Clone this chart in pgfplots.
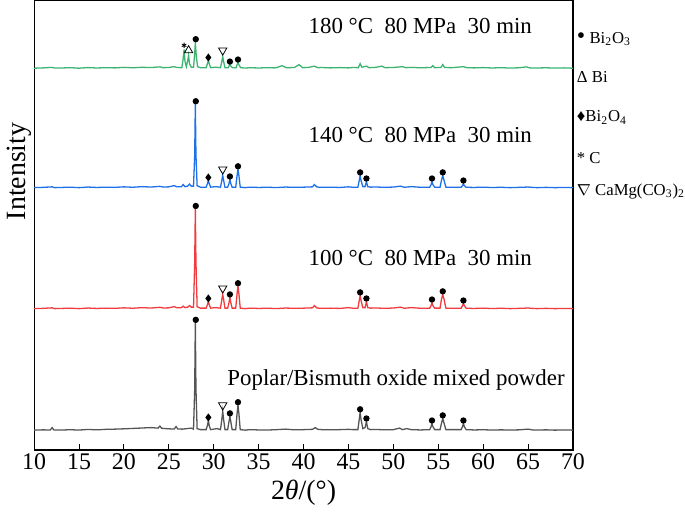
\documentclass[border=0pt]{standalone}
\usepackage{pgfplots}
\pgfplotsset{compat=1.18}
\usepackage{fontspec}
\setmainfont{Liberation Serif}
\definecolor{cgreen}{RGB}{60,179,113}
\definecolor{cblue}{RGB}{30,112,232}
\definecolor{cred}{RGB}{240,60,62}
\definecolor{cgray}{RGB}{85,85,85}
\begin{document}
\begin{tikzpicture}
\begin{axis}[
  width=271pt, height=226pt, scale only axis,
  xmin=10, xmax=70, ymin=0, ymax=442,
  xtick={10,15,...,70}, ytick=\empty,
  tick align=inside, xtick pos=bottom,
  major tick length=3pt,
  axis line style={line width=0.6pt},
  every tick/.style={black, line width=0.5pt},
  /pgf/number format/assume math mode=true,
  ticklabel style={font=\fontsize{12}{13}\selectfont},
  xticklabel style={yshift=1.5pt},
  xlabel={2\textit{θ}/(°)},
  xlabel style={font=\fontsize{14}{15}\selectfont, yshift=2pt},
  ylabel={Intensity},
  ylabel style={font=\fontsize{14}{15}\selectfont, at={(rel axis cs:0,0.62)}, yshift=-2pt},
  clip=false,
  every axis plot/.append style={line width=0.65pt},
]
% Poplar/Bismuth oxide mixed powder
\addplot[cgray] coordinates {(10,19.5)(11,19.8)(11.8,19.6)(12.0,22)(12.2,19.7)(13,19.6)(14,19.9)(15,19.6)(16,20.2)(17,19.8)(18,20.3)(19,20.5)(20,20.8)(21,21.2)(22,21.6)(23,22.0)(23.8,21.5)(24.0,23.5)(24.2,21.3)(25,20.8)(25.6,20.6)(25.8,23)(26,20.6)(26.5,20.5)(27,21)(27.5,21.5)(27.75,20.5)(27.88,60)(27.95,126)(28.02,60)(28.15,21)(28.5,20)(29.15,20)(29.3,24)(29.4,29)(29.5,24)(29.65,20)(30,20.5)(30.4,21)(30.75,20)(30.9,30)(31.0,38)(31.1,30)(31.25,20)(31.55,20)(31.7,28)(31.8,33)(31.9,28)(32.05,20)(32.45,20)(32.6,36)(32.7,44)(32.8,36)(32.95,20)(33.5,19.5)(34,20)(35,19.7)(36,19.6)(37,20)(38,20.5)(39,19.8)(40,20)(41,20.3)(41.3,22)(41.6,20.3)(42,20)(43,19.8)(44,20)(45,20.3)(45.5,20)(46.05,20)(46.2,30)(46.3,37)(46.4,30)(46.6,21)(46.85,22)(47.0,28)(47.15,21)(47.5,20)(48,20.2)(49,19.8)(50,20)(50.7,21.5)(51,20)(51.5,21)(52,20)(53,19.7)(54.05,20)(54.2,23)(54.3,26)(54.4,23)(54.6,20)(55.2,20)(55.35,26)(55.5,31)(55.65,26)(55.85,20)(56.5,20)(57.55,20)(57.7,23)(57.8,26)(57.9,23)(58.1,20)(59,19.7)(60,19.9)(61,19.6)(62,19.8)(63,19.6)(64,19.8)(65,20.5)(65.5,19.7)(66,19.6)(67,19.8)(68,19.5)(69,19.7)(70,19.5)};
% 100 C
\addplot[cred] coordinates {(10,139)(11,139.3)(12,139.8)(12.3,139)(13,139.2)(14,139.5)(15,139)(16,139.6)(17,139.2)(18,139.5)(19,139.3)(20,139.8)(21,139.4)(22,140)(23,139.6)(24,140.3)(24.4,139.6)(25,139.8)(25.6,141)(25.9,139.8)(26.4,140)(26.6,141.5)(26.8,140)(27.1,140.5)(27.3,142)(27.5,140.5)(27.75,140.5)(27.88,185)(27.95,238)(28.02,185)(28.15,141)(28.5,139.5)(29.15,139.5)(29.3,143)(29.4,146)(29.5,143)(29.65,139.5)(30.2,140)(30.75,139.5)(30.9,148)(31.0,153)(31.1,148)(31.25,139.5)(31.55,139.5)(31.7,145)(31.8,150)(31.9,145)(32.05,139.5)(32.45,139.5)(32.6,154)(32.7,161)(32.8,154)(32.95,139.5)(33.5,139)(34,139.5)(35,139.2)(36,139.4)(37,139.1)(38,139.6)(39,139.3)(40,139.5)(41,139.8)(41.2,142)(41.5,139.6)(42,139.3)(43,139.5)(44,139.2)(45,140)(45.5,139.4)(46.05,139.5)(46.2,147)(46.3,152)(46.4,147)(46.6,140)(46.85,140)(47.0,146)(47.15,140)(47.5,139.5)(48,139.7)(49,139.3)(50,139.6)(50.8,140.5)(51.2,139.4)(52,140)(53,139.4)(54.05,139.5)(54.2,142)(54.3,145)(54.4,142)(54.6,139.5)(55.2,139.5)(55.35,148)(55.5,153)(55.65,148)(55.85,139.5)(56.5,139.4)(57.55,139.4)(57.7,142)(57.8,144)(57.9,142)(58.1,139.4)(59,139.2)(60,139.5)(61,139.1)(62,139.4)(63,139)(64,139.3)(65,139.6)(66,139)(67,139.3)(68,139)(69,139.2)(70,139)};
% 140 C
\addplot[cblue] coordinates {(10,258)(11,258.3)(12,258.8)(12.3,258)(13,258.2)(14,258.5)(15,258)(16,258.6)(17,258.2)(18,258.5)(19,258.3)(20,258.8)(21,258.4)(22,259)(23,258.6)(24,259.3)(24.4,258.6)(25,258.8)(25.6,260)(25.9,258.8)(26.4,259)(26.6,261)(26.8,259)(27.1,259.5)(27.3,261.5)(27.5,259.5)(27.75,259.5)(27.88,290)(27.95,341)(28.02,290)(28.15,260)(28.5,258.5)(29.15,258.5)(29.3,262)(29.4,265)(29.5,262)(29.65,258.5)(30.2,259)(30.75,258.5)(30.9,265)(31.0,270)(31.1,265)(31.25,258.5)(31.55,258.5)(31.7,262)(31.8,266)(31.9,262)(32.05,258.5)(32.45,258.5)(32.6,270)(32.7,276)(32.8,270)(32.95,258.5)(33.5,258)(34,258.5)(35,258.2)(36,258.4)(37,258.1)(38,258.6)(39,258.3)(40,258.5)(41,258.8)(41.2,261)(41.5,258.6)(42,258.3)(43,258.5)(44,258.2)(45,258.8)(45.5,258.4)(46.05,258.5)(46.2,265)(46.3,270)(46.4,265)(46.6,259)(46.85,259)(47.0,264)(47.15,259)(47.5,258.5)(48,258.7)(49,258.3)(50,258.6)(50.8,259.5)(51.2,258.4)(52,259)(53,258.4)(54.05,258.5)(54.2,261)(54.3,264)(54.4,261)(54.6,258.5)(55.2,258.5)(55.35,265)(55.5,270)(55.65,265)(55.85,258.5)(56.5,258.4)(57.55,258.4)(57.7,260)(57.8,262)(57.9,260)(58.1,258.4)(59,258.2)(60,258.5)(61,258.1)(62,258.4)(63,258)(64,258.3)(65,258.6)(66,258)(67,258.3)(68,258)(69,258.2)(70,258)};
% 180 C
\addplot[cgreen] coordinates {(10,375.5)(11,375.8)(12,376.3)(12.3,375.6)(13,375.7)(14,376)(15,375.5)(16,376.1)(17,375.7)(18,376)(19,375.8)(20,376.3)(21,375.9)(22,376.4)(23,376.1)(24,376.8)(24.4,376)(25,376.2)(25.6,377)(25.9,376.2)(26.45,376)(26.6,385)(26.7,394)(26.8,382)(26.95,377)(27.1,383)(27.2,388)(27.3,380)(27.5,376.5)(27.75,376.5)(27.88,390)(27.95,401)(28.05,388)(28.2,377)(28.5,376)(29.15,376)(29.3,380)(29.4,383)(29.5,380)(29.65,376)(30.2,376.5)(30.75,376)(30.9,382)(31.0,387)(31.1,382)(31.25,376)(31.6,376)(31.7,377.5)(31.8,379)(31.9,377.5)(32.1,376)(32.5,376)(32.6,379)(32.7,381)(32.8,379)(33,376)(33.5,375.6)(34,376)(35,375.7)(36,376)(36.7,375.8)(37,376)(37.6,378)(38.1,375.9)(39,376.2)(39.5,379)(39.9,376)(40.5,376.2)(41.2,377.5)(41.6,376)(42,376.2)(43,375.8)(44,376.1)(45,375.8)(45.5,376.2)(46.1,376)(46.3,380)(46.5,376.5)(47,377.5)(47.3,376)(48,376.3)(48.7,377.5)(49.1,376)(50,376.2)(51,377)(51.4,376)(52,376.3)(53,375.9)(54.2,376.2)(54.4,378)(54.6,376)(55.3,376.3)(55.5,379)(55.7,376.2)(56.5,376)(57.8,377)(58.2,376)(59,375.8)(60,376.1)(61,375.7)(62,376)(63,375.6)(64,375.9)(64.8,376.8)(65.2,375.8)(66,375.7)(67,375.9)(68,375.6)(69,375.8)(70,375.5)};
% peak markers
\addplot[only marks, mark=*, mark size=1.25pt, black] coordinates {(28.0,404)(31.8,382)(32.7,384)(28.0,343)(31.8,269)(32.7,279)(46.3,273)(47.0,267)(54.3,267)(55.5,273)(57.8,265)(28.0,240)(31.8,153)(32.7,164)(46.3,155)(47.0,149)(54.3,148)(55.5,156)(57.8,147)(28.0,128)(31.8,36)(32.7,47)(46.3,40)(47.0,31)(54.3,29)(55.5,34)(57.8,29)};
\addplot[only marks, mark=diamond*, mark size=1.5pt, black] coordinates {(29.4,386)(29.4,268)(29.4,149)(29.4,32)};
\addplot[only marks, mark=triangle, mark size=2.4pt, black, line width=0.4pt, every mark/.append style={rotate=180}] coordinates {(31.0,393)(31.0,276)(31.0,159)(31.0,44)};
\addplot[only marks, mark=triangle, mark size=2.4pt, black, line width=0.4pt] coordinates {(27.2,393)};
\addplot[only marks, mark=asterisk, mark size=1.3pt, black, line width=0.4pt] coordinates {(26.7,398)};
% annotations
\node[font=\fontsize{11.5}{13}\selectfont] at (axis cs:53.0,417) {180 °C\ \ 80 MPa\ \ 30 min};
\node[font=\fontsize{11.5}{13}\selectfont] at (axis cs:53.0,310) {140 °C\ \ 80 MPa\ \ 30 min};
\node[font=\fontsize{11.5}{13}\selectfont] at (axis cs:53.0,189) {100 °C\ \ 80 MPa\ \ 30 min};
\node[font=\fontsize{11.5}{13}\selectfont] at (axis cs:50.3,69) {Poplar/Bismuth oxide mixed powder};
% right-side key
\begin{scope}[every node/.style={anchor=west, inner sep=0pt, font=\fontsize{8.4}{10}\selectfont}]
\node at (axis cs:70.4,404) {{\large•} Bi\textsubscript{2}O\textsubscript{3}};
\node at (axis cs:70.4,367) {Δ Bi};
\node at (axis cs:70.4,327) {♦Bi\textsubscript{2}O\textsubscript{4}};
\node at (axis cs:70.4,287) {* C};
\node at (axis cs:70.4,254) {$\nabla$ CaMg(CO\textsubscript{3})\textsubscript{2}};
\end{scope}
\end{axis}
\end{tikzpicture}
\end{document}
